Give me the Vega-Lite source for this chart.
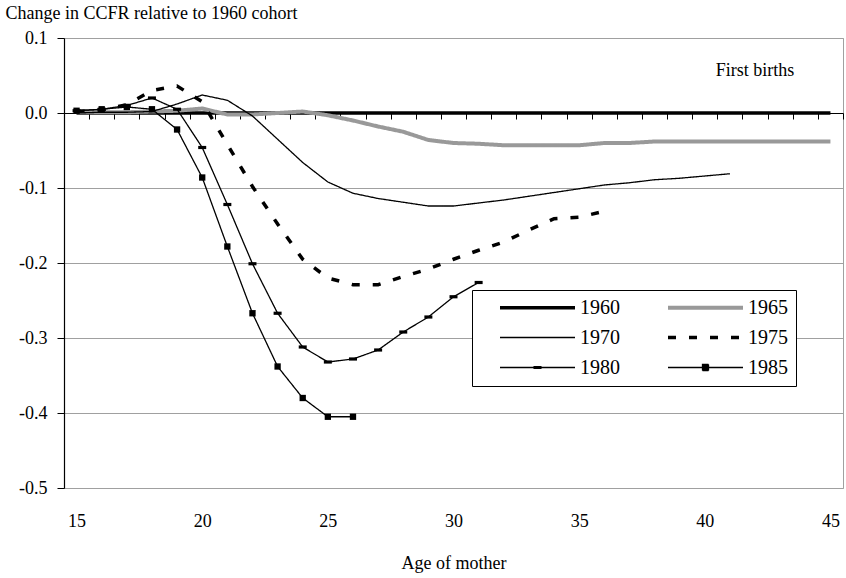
{
  "$schema": "https://vega.github.io/schema/vega-lite/v6.json",
  "width": 779,
  "height": 450,
  "autosize": {"type": "none"},
  "padding": {"left": 64, "top": 38, "right": 3, "bottom": 90},
  "background": "white",
  "config": {"view": {"stroke": "#a0a0a0", "strokeWidth": 1}, "font": "Liberation Serif"},
  "data": {"values": [
    {"cohort": "1960", "age": 15, "v": 0}, {"cohort": "1960", "age": 16, "v": 0}, {"cohort": "1960", "age": 17, "v": 0}, {"cohort": "1960", "age": 18, "v": 0}, {"cohort": "1960", "age": 19, "v": 0}, {"cohort": "1960", "age": 20, "v": 0}, {"cohort": "1960", "age": 21, "v": 0}, {"cohort": "1960", "age": 22, "v": 0}, {"cohort": "1960", "age": 23, "v": 0}, {"cohort": "1960", "age": 24, "v": 0}, {"cohort": "1960", "age": 25, "v": 0}, {"cohort": "1960", "age": 26, "v": 0}, {"cohort": "1960", "age": 27, "v": 0}, {"cohort": "1960", "age": 28, "v": 0}, {"cohort": "1960", "age": 29, "v": 0}, {"cohort": "1960", "age": 30, "v": 0}, {"cohort": "1960", "age": 31, "v": 0}, {"cohort": "1960", "age": 32, "v": 0}, {"cohort": "1960", "age": 33, "v": 0}, {"cohort": "1960", "age": 34, "v": 0}, {"cohort": "1960", "age": 35, "v": 0}, {"cohort": "1960", "age": 36, "v": 0}, {"cohort": "1960", "age": 37, "v": 0}, {"cohort": "1960", "age": 38, "v": 0}, {"cohort": "1960", "age": 39, "v": 0}, {"cohort": "1960", "age": 40, "v": 0}, {"cohort": "1960", "age": 41, "v": 0}, {"cohort": "1960", "age": 42, "v": 0}, {"cohort": "1960", "age": 43, "v": 0}, {"cohort": "1960", "age": 44, "v": 0}, {"cohort": "1960", "age": 45, "v": 0},
    {"cohort": "1965", "age": 15, "v": 0.001}, {"cohort": "1965", "age": 16, "v": 0.001}, {"cohort": "1965", "age": 17, "v": 0.001}, {"cohort": "1965", "age": 18, "v": 0.002}, {"cohort": "1965", "age": 19, "v": 0.003}, {"cohort": "1965", "age": 20, "v": 0.006}, {"cohort": "1965", "age": 21, "v": -0.002}, {"cohort": "1965", "age": 22, "v": -0.002}, {"cohort": "1965", "age": 23, "v": 0}, {"cohort": "1965", "age": 24, "v": 0.002}, {"cohort": "1965", "age": 25, "v": -0.003}, {"cohort": "1965", "age": 26, "v": -0.01}, {"cohort": "1965", "age": 27, "v": -0.018}, {"cohort": "1965", "age": 28, "v": -0.025}, {"cohort": "1965", "age": 29, "v": -0.036}, {"cohort": "1965", "age": 30, "v": -0.04}, {"cohort": "1965", "age": 31, "v": -0.041}, {"cohort": "1965", "age": 32, "v": -0.043}, {"cohort": "1965", "age": 33, "v": -0.043}, {"cohort": "1965", "age": 34, "v": -0.043}, {"cohort": "1965", "age": 35, "v": -0.043}, {"cohort": "1965", "age": 36, "v": -0.04}, {"cohort": "1965", "age": 37, "v": -0.04}, {"cohort": "1965", "age": 38, "v": -0.038}, {"cohort": "1965", "age": 39, "v": -0.038}, {"cohort": "1965", "age": 40, "v": -0.038}, {"cohort": "1965", "age": 41, "v": -0.038}, {"cohort": "1965", "age": 42, "v": -0.038}, {"cohort": "1965", "age": 43, "v": -0.038}, {"cohort": "1965", "age": 44, "v": -0.038}, {"cohort": "1965", "age": 45, "v": -0.038},
    {"cohort": "1970", "age": 15, "v": 0}, {"cohort": "1970", "age": 16, "v": 0.001}, {"cohort": "1970", "age": 17, "v": 0.001}, {"cohort": "1970", "age": 18, "v": 0.002}, {"cohort": "1970", "age": 19, "v": 0.012}, {"cohort": "1970", "age": 20, "v": 0.024}, {"cohort": "1970", "age": 21, "v": 0.017}, {"cohort": "1970", "age": 22, "v": -0.004}, {"cohort": "1970", "age": 23, "v": -0.035}, {"cohort": "1970", "age": 24, "v": -0.066}, {"cohort": "1970", "age": 25, "v": -0.092}, {"cohort": "1970", "age": 26, "v": -0.107}, {"cohort": "1970", "age": 27, "v": -0.114}, {"cohort": "1970", "age": 28, "v": -0.119}, {"cohort": "1970", "age": 29, "v": -0.124}, {"cohort": "1970", "age": 30, "v": -0.124}, {"cohort": "1970", "age": 31, "v": -0.12}, {"cohort": "1970", "age": 32, "v": -0.116}, {"cohort": "1970", "age": 33, "v": -0.111}, {"cohort": "1970", "age": 34, "v": -0.106}, {"cohort": "1970", "age": 35, "v": -0.101}, {"cohort": "1970", "age": 36, "v": -0.096}, {"cohort": "1970", "age": 37, "v": -0.093}, {"cohort": "1970", "age": 38, "v": -0.089}, {"cohort": "1970", "age": 39, "v": -0.087}, {"cohort": "1970", "age": 40, "v": -0.084}, {"cohort": "1970", "age": 41, "v": -0.081},
    {"cohort": "1975", "age": 15, "v": 0.002}, {"cohort": "1975", "age": 16, "v": 0.004}, {"cohort": "1975", "age": 17, "v": 0.011}, {"cohort": "1975", "age": 18, "v": 0.03}, {"cohort": "1975", "age": 19, "v": 0.036}, {"cohort": "1975", "age": 20, "v": 0.015}, {"cohort": "1975", "age": 21, "v": -0.042}, {"cohort": "1975", "age": 22, "v": -0.098}, {"cohort": "1975", "age": 23, "v": -0.148}, {"cohort": "1975", "age": 24, "v": -0.195}, {"cohort": "1975", "age": 25, "v": -0.22}, {"cohort": "1975", "age": 26, "v": -0.229}, {"cohort": "1975", "age": 27, "v": -0.229}, {"cohort": "1975", "age": 28, "v": -0.218}, {"cohort": "1975", "age": 29, "v": -0.208}, {"cohort": "1975", "age": 30, "v": -0.195}, {"cohort": "1975", "age": 31, "v": -0.183}, {"cohort": "1975", "age": 32, "v": -0.172}, {"cohort": "1975", "age": 33, "v": -0.156}, {"cohort": "1975", "age": 34, "v": -0.141}, {"cohort": "1975", "age": 35, "v": -0.139}, {"cohort": "1975", "age": 36, "v": -0.131},
    {"cohort": "1980", "age": 15, "v": 0.003}, {"cohort": "1980", "age": 16, "v": 0.005}, {"cohort": "1980", "age": 17, "v": 0.01}, {"cohort": "1980", "age": 18, "v": 0.02}, {"cohort": "1980", "age": 19, "v": 0.005}, {"cohort": "1980", "age": 20, "v": -0.046}, {"cohort": "1980", "age": 21, "v": -0.122}, {"cohort": "1980", "age": 22, "v": -0.201}, {"cohort": "1980", "age": 23, "v": -0.267}, {"cohort": "1980", "age": 24, "v": -0.312}, {"cohort": "1980", "age": 25, "v": -0.332}, {"cohort": "1980", "age": 26, "v": -0.328}, {"cohort": "1980", "age": 27, "v": -0.316}, {"cohort": "1980", "age": 28, "v": -0.292}, {"cohort": "1980", "age": 29, "v": -0.272}, {"cohort": "1980", "age": 30, "v": -0.245}, {"cohort": "1980", "age": 31, "v": -0.226},
    {"cohort": "1985", "age": 15, "v": 0.003}, {"cohort": "1985", "age": 16, "v": 0.005}, {"cohort": "1985", "age": 17, "v": 0.008}, {"cohort": "1985", "age": 18, "v": 0.005}, {"cohort": "1985", "age": 19, "v": -0.022}, {"cohort": "1985", "age": 20, "v": -0.086}, {"cohort": "1985", "age": 21, "v": -0.178}, {"cohort": "1985", "age": 22, "v": -0.267}, {"cohort": "1985", "age": 23, "v": -0.338}, {"cohort": "1985", "age": 24, "v": -0.38}, {"cohort": "1985", "age": 25, "v": -0.405}, {"cohort": "1985", "age": 26, "v": -0.405}
  ]},
  "encoding": {
    "y": {"field": "v", "type": "quantitative", "scale": {"domain": [-0.5, 0.1], "nice": false, "zero": false},
      "axis": {"values": [-0.5, -0.4, -0.3, -0.2, -0.1, 0, 0.1], "title": "Change in CCFR relative to 1960 cohort", "titleAngle": 0, "titleX": -59, "titleY": -20, "titleAlign": "left", "titleBaseline": "alphabetic", "titleFont": "Liberation Serif", "titleFontSize": 18, "titleFontWeight": "normal", "titleColor": "black", "grid": true, "gridColor": "#a0a0a0", "gridWidth": 1, "domainColor": "black", "domainWidth": 1.2, "tickColor": "black", "tickSize": 7, "labelPadding": 10, "labelFont": "Liberation Serif", "labelFontSize": 18, "labelColor": "black", "labelExpr": "replace(format(datum.value, '.1f'), '\u2212', '-')"}}
  },
  "layer": [
    {
      "mark": {"type": "line", "strokeCap": "butt"},
      "encoding": {
        "x": {"field": "age", "type": "quantitative", "scale": {"domain": [14.5, 45.5], "nice": false, "zero": false},
          "axis": {"orient": "bottom", "values": [15, 20, 25, 30, 35, 40, 45], "domain": false, "ticks": false, "tickSize": 0, "grid": false, "labelPadding": 24, "labelFont": "Liberation Serif", "labelFontSize": 18, "labelColor": "black", "title": "Age of mother", "titleFont": "Liberation Serif", "titleFontSize": 18, "titleFontWeight": "normal", "titleColor": "black", "titlePadding": 24}},
        "color": {"field": "cohort", "type": "nominal",
          "scale": {"domain": ["1960", "1965", "1970", "1975", "1980", "1985"], "range": ["black", "#999999", "black", "black", "black", "black"]},
          "legend": {"title": null, "orient": "none", "legendX": 408, "legendY": 252, "values": ["1960", "1970", "1980", "1965", "1975", "1985"], "columns": 2, "columnPadding": 28, "rowPadding": 9, "clipHeight": 19, "padding": 8, "strokeColor": "black", "fillColor": "white", "symbolType": "stroke", "symbolSize": 5625, "symbolOffset": 18, "labelFont": "Liberation Serif", "labelFontSize": 20, "labelColor": "black", "labelOffset": 3, "labelExpr": "datum.label + '\u00a0\u00a0\u00a0\u00a0\u00a0'",
            "encode": {"symbols": {"update": {
              "shape": {"signal": "datum.value === '1985' ? 'M-1,0H1M-0.08,-0.08H0.08V0.08H-0.08Z' : (datum.value === '1980' ? 'M-1,0H1M-0.09,-0.025H0.09V0.025H-0.09Z' : 'M-1,0H1')"},
              "fill": {"signal": "(datum.value === '1985' || datum.value === '1980') ? 'black' : 'transparent'"}
            }}}}},
        "strokeDash": {"field": "cohort", "type": "nominal",
          "scale": {"domain": ["1960", "1965", "1970", "1975", "1980", "1985"], "range": [[1, 0], [1, 0], [1, 0], [8, 13], [1, 0], [1, 0]]}},
        "strokeWidth": {"field": "cohort", "type": "nominal",
          "scale": {"type": "ordinal", "domain": ["1960", "1965", "1970", "1975", "1980", "1985"], "range": [3.5, 4, 1.3, 3.5, 1.3, 1.3]}}
      }
    },
    {
      "transform": [{"filter": "datum.cohort === '1980'"}],
      "mark": {"type": "point", "shape": "M-1,-0.4H1V0.4H-1Z", "filled": true, "color": "black", "opacity": 1, "size": 64},
      "encoding": {"x": {"field": "age", "type": "quantitative", "scale": {"domain": [14.5, 45.5], "nice": false, "zero": false}, "axis": null}}
    },
    {
      "transform": [{"filter": "datum.cohort === '1985'"}],
      "mark": {"type": "square", "color": "black", "opacity": 1, "size": 40},
      "encoding": {"x": {"field": "age", "type": "quantitative", "scale": {"domain": [14.5, 45.5], "nice": false, "zero": false}, "axis": null}}
    },
    {
      "data": {"values": [{"label": "First births", "age": 42, "v": 0.056}]},
      "mark": {"type": "text", "font": "Liberation Serif", "fontSize": 18, "color": "black", "align": "center", "baseline": "middle"},
      "encoding": {
        "x": {"field": "age", "type": "quantitative", "scale": {"domain": [14.5, 45.5], "nice": false, "zero": false},
          "axis": {"orient": "bottom", "offset": -375, "values": [14.5, 15.5, 16.5, 17.5, 18.5, 19.5, 20.5, 21.5, 22.5, 23.5, 24.5, 25.5, 26.5, 27.5, 28.5, 29.5, 30.5, 31.5, 32.5, 33.5, 34.5, 35.5, 36.5, 37.5, 38.5, 39.5, 40.5, 41.5, 42.5, 43.5, 44.5, 45.5], "labels": false, "ticks": true, "tickSize": 6, "tickColor": "black", "domain": true, "domainColor": "black", "grid": false, "title": null}},
        "text": {"field": "label"}
      }
    }
  ],
  "resolve": {"axis": {"x": "independent"}}
}
